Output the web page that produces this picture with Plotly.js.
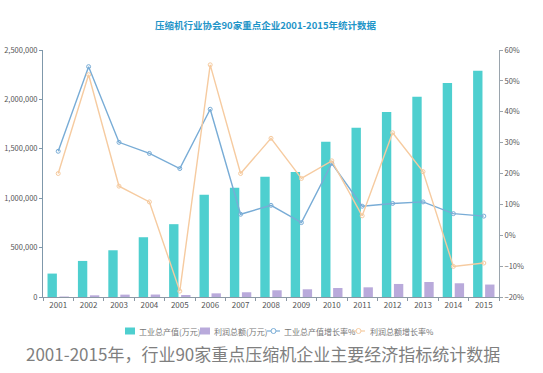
<!DOCTYPE html>
<html>
<head>
<meta charset="utf-8">
<script src="https://cdn.plot.ly/plotly-3.0.1.min.js"></script>
<style>html,body{margin:0;padding:0;background:#fff;}#chart{width:543px;height:373px;}</style>
</head>
<body>
<div id="chart"></div>
<script>
const years = ['2001','2002','2003','2004','2005','2006','2007','2008','2009','2010','2011','2012','2013','2014','2015'];
const outputValue = [237000,365000,473000,605000,737000,1034000,1105000,1216000,1264000,1571000,1713000,1872000,2027000,2166000,2290000];
const profitTotal = [5000,17000,24000,25000,20000,37000,48000,68000,78000,91000,98000,132000,152000,139000,126000];
const outputGrowth = [27.2,54.6,30.1,26.5,21.6,40.8,6.8,9.7,4.1,23.3,9.4,10.3,10.8,7.0,6.2];
const profitGrowth = [20.0,52.0,15.9,10.8,-18.1,55.2,20.0,31.4,18.4,24.1,6.3,33.2,20.6,-10.1,-9.0];
const seriesNames = ['工业总产值(万元)','利润总额(万元)','工业总产值增长率%','利润总额增长率%'];
const seriesColors = ['#4ecfcf','#b9aadb','#78acd6','#f6cba0'];
const titleText = '压缩机行业协会90家重点企业2001-2015年统计数据';
const captionText = '2001-2015年，行业90家重点压缩机企业主要经济指标统计数据';

const cjk = '"Noto Sans CJK SC", "Open Sans", sans-serif';
const W = 543, H = 373, M = {l:43, r:44, t:50, b:76};
const PW = W - M.l - M.r, PH = H - M.t - M.b;
const px = v => (v - M.l) / PW;
const py = v => (H - M.b - v) / PH;

const traces = [
  {type:'bar', name:seriesNames[0], x:years, y:outputValue, marker:{color:seriesColors[0]}, yaxis:'y'},
  {type:'bar', name:seriesNames[1], x:years, y:profitTotal, marker:{color:seriesColors[1]}, yaxis:'y'},
  {type:'scatter', mode:'lines+markers', name:seriesNames[2], x:years, y:outputGrowth, yaxis:'y2',
   line:{color:seriesColors[2], width:1.4}, marker:{symbol:'circle-open', size:4, color:seriesColors[2]}},
  {type:'scatter', mode:'lines+markers', name:seriesNames[3], x:years, y:profitGrowth, yaxis:'y2',
   line:{color:seriesColors[3], width:1.4}, marker:{symbol:'circle-open', size:4, color:seriesColors[3]}}
];

// manual compact legend (decoration only)
const legY = 331;
const legItems = [
  {kind:'box', x:125, tx:137},
  {kind:'box', x:200, tx:212},
  {kind:'line', x:267, tx:282},
  {kind:'line', x:352, tx:368}
];
const shapes = [], annotations = [];
legItems.forEach((it, i) => {
  const c = seriesColors[i];
  if (it.kind === 'box') {
    shapes.push({type:'rect', xref:'paper', yref:'paper', x0:px(it.x), x1:px(it.x+10),
      y0:py(legY+3.5), y1:py(legY-3.5), fillcolor:c, line:{width:0}});
  } else {
    shapes.push({type:'line', xref:'paper', yref:'paper', x0:px(it.x), x1:px(it.x+13),
      y0:py(legY), y1:py(legY), line:{color:c, width:1.2}});
    shapes.push({type:'circle', xref:'paper', yref:'paper', x0:px(it.x+4), x1:px(it.x+9),
      y0:py(legY+2.5), y1:py(legY-2.5), fillcolor:'#fff', line:{color:c, width:1}});
  }
  annotations.push({text:seriesNames[i], xref:'paper', yref:'paper', x:px(it.tx), y:py(legY),
    xanchor:'left', yanchor:'middle', showarrow:false, font:{family:cjk, size:8, color:'#777'}});
});
annotations.push({text:captionText, xref:'paper', yref:'paper', x:px(262.5), y:py(353.5), xanchor:'center',
  yanchor:'middle', showarrow:false, font:{family:cjk, size:17, color:'#7f7f7f'}});

const layout = {
  width:W, height:H,
  margin:{l:M.l, r:M.r, t:M.t, b:M.b, autoexpand:false},
  paper_bgcolor:'#fff', plot_bgcolor:'#fff',
  font:{family:cjk, size:8, color:'#555'},
  title:{text:titleText, x:265.5/W, xanchor:'center', y:1-26/H, yanchor:'middle',
         font:{family:cjk, size:9.5, color:'#1f95c8', weight:'bold'}},
  barmode:'group', bargap:0.21, bargroupgap:0.22,
  showlegend:false,
  xaxis:{type:'category', range:[-0.5, years.length-0.5], showline:true, linecolor:'#8b98a4', linewidth:1,
         ticks:'outside', tickson:'boundaries', ticklen:3, tickcolor:'#8b98a4', showgrid:false, zeroline:false,
         tickfont:{size:8, color:'#555'}},
  yaxis:{range:[0,2500000], dtick:500000, tickformat:',', showline:true, linecolor:'#7f98ab',
         ticks:'outside', ticklen:3, tickcolor:'#7f98ab', showgrid:false, zeroline:false,
         tickfont:{size:7.5, color:'#555'}},
  yaxis2:{range:[-20,60], dtick:10, ticksuffix:'%', overlaying:'y', side:'right', showline:true,
          linecolor:'#9aa4ad', ticks:'outside', ticklen:3, tickcolor:'#9aa4ad', showgrid:false,
          zeroline:false, tickfont:{size:7.5, color:'#555'}},
  shapes:shapes,
  annotations:annotations
};
Plotly.newPlot('chart', traces, layout, {displayModeBar:false, staticPlot:true});
</script>
</body>
</html>
